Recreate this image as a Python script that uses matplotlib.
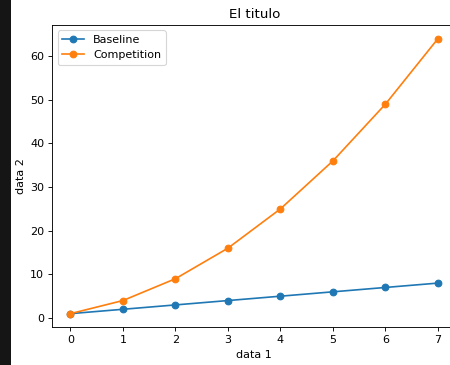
import matplotlib
matplotlib.use('Agg')
import matplotlib.pyplot as plt
from matplotlib.patches import Rectangle

# data
x = [0, 1, 2, 3, 4, 5, 6, 7]
baseline = [1, 2, 3, 4, 5, 6, 7, 8]
competition = [1, 4, 9, 16, 25, 36, 49, 64]

# the screenshot looks like a default figure shown at ~80 dpi
fig = plt.figure(figsize=(450 / 80, 365 / 80), dpi=80)
# axes runs a little past the right edge, like the cropped screenshot
ax = fig.add_axes([0.1156, 0.103, 0.8986, 0.829])

ax.plot(x, baseline, 'o-', label='Baseline')
ax.plot(x, competition, 'o-', label='Competition')
ax.set_title('El titulo')
ax.set_xlabel('data 1')
ax.set_ylabel('data 2')
ax.legend(loc='upper left')

# dark strip on the left edge of the screenshot
fig.patches.append(Rectangle((0, 0), 11 / 450, 1, transform=fig.transFigure,
                             facecolor='#151515', edgecolor='none', zorder=10))

fig.savefig('out.png', dpi=80)
